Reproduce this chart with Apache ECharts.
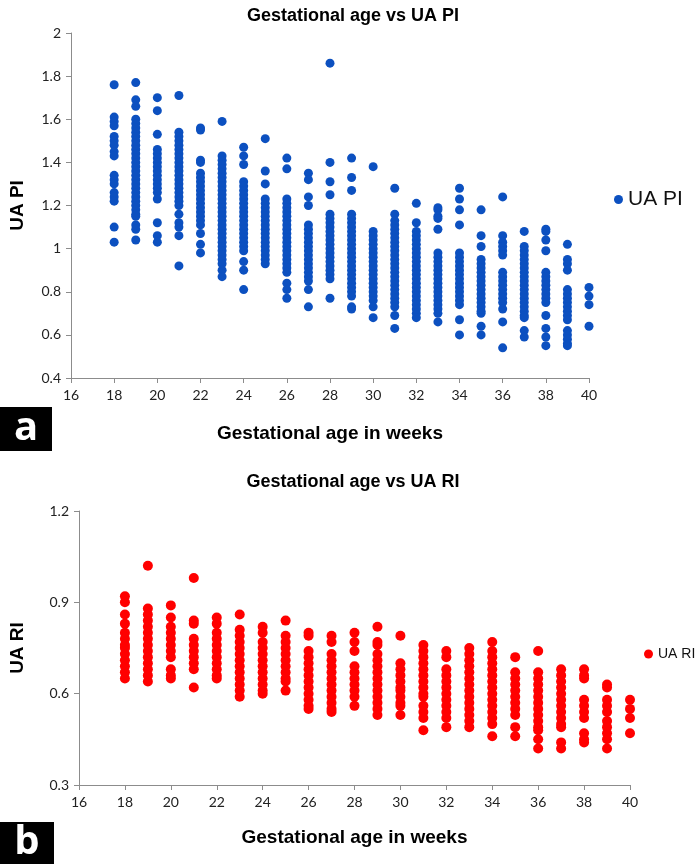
<!DOCTYPE html>
<html>
<head>
<meta charset="utf-8">
<script src="https://cdn.jsdelivr.net/npm/echarts@6/dist/echarts.min.js"></script>
<style>
html,body{margin:0;padding:0;background:#fff;}
#main{width:696px;height:864px;}
</style>
</head>
<body>
<div id="main"></div>
<script>
// Gestational age (weeks) columns
const weeks = [18,19,20,21,22,23,24,25,26,27,28,29,30,31,32,33,34,35,36,37,38,39,40];
const xTicks = [16,18,20,22,24,26,28,30,32,34,36,38,40];
const piTicks = [0.4,0.6,0.8,1,1.2,1.4,1.6,1.8,2];
const riTicks = [0.3,0.6,0.9,1.2];

// UA PI values per week (same order as weeks)
const uaPI = [
  [1.76,1.61,1.59,1.57,1.52,1.50,1.48,1.45,1.43,1.34,1.32,1.30,1.26,1.24,1.22,1.10,1.03],
  [1.77,1.69,1.66,1.60,1.58,1.56,1.54,1.52,1.50,1.48,1.46,1.44,1.42,1.40,1.38,1.36,1.34,1.32,1.30,1.28,1.26,1.24,1.22,1.20,1.18,1.16,1.15,1.11,1.09,1.04],
  [1.70,1.64,1.53,1.46,1.44,1.42,1.40,1.38,1.36,1.34,1.32,1.30,1.28,1.26,1.23,1.12,1.06,1.03],
  [1.71,1.54,1.52,1.50,1.48,1.46,1.44,1.42,1.40,1.38,1.36,1.34,1.32,1.30,1.28,1.26,1.24,1.22,1.20,1.16,1.12,1.10,1.06,0.92],
  [1.56,1.55,1.41,1.40,1.35,1.33,1.31,1.29,1.27,1.25,1.23,1.21,1.19,1.17,1.15,1.13,1.11,1.07,1.02,0.98],
  [1.59,1.43,1.41,1.39,1.37,1.35,1.33,1.31,1.29,1.27,1.25,1.23,1.21,1.19,1.17,1.15,1.13,1.11,1.09,1.07,1.05,1.03,1.01,0.99,0.97,0.95,0.93,0.90,0.87],
  [1.47,1.43,1.39,1.31,1.29,1.27,1.25,1.23,1.21,1.19,1.17,1.15,1.13,1.11,1.09,1.07,1.05,1.03,1.01,0.99,0.94,0.90,0.81],
  [1.51,1.36,1.30,1.23,1.21,1.19,1.17,1.15,1.13,1.11,1.09,1.07,1.05,1.03,1.01,0.99,0.97,0.95,0.93],
  [1.42,1.37,1.23,1.21,1.19,1.17,1.15,1.13,1.11,1.09,1.07,1.05,1.03,1.01,0.99,0.97,0.95,0.93,0.91,0.89,0.84,0.81,0.77],
  [1.35,1.32,1.24,1.20,1.11,1.09,1.07,1.05,1.03,1.01,0.99,0.97,0.95,0.93,0.91,0.89,0.87,0.85,0.81,0.73],
  [1.86,1.40,1.31,1.25,1.16,1.14,1.12,1.10,1.08,1.06,1.04,1.02,1.00,0.98,0.96,0.94,0.92,0.90,0.88,0.86,0.77],
  [1.42,1.33,1.27,1.16,1.14,1.12,1.10,1.08,1.06,1.04,1.02,1.00,0.98,0.96,0.94,0.92,0.90,0.88,0.86,0.84,0.82,0.80,0.78,0.73,0.72],
  [1.38,1.08,1.06,1.04,1.02,1.00,0.98,0.96,0.94,0.92,0.90,0.88,0.86,0.84,0.82,0.80,0.78,0.76,0.73,0.68],
  [1.28,1.16,1.13,1.11,1.09,1.07,1.05,1.03,1.01,0.99,0.97,0.95,0.93,0.91,0.89,0.87,0.85,0.83,0.81,0.79,0.77,0.75,0.73,0.69,0.63],
  [1.21,1.12,1.08,1.06,1.04,1.02,1.00,0.98,0.96,0.94,0.92,0.90,0.88,0.86,0.84,0.82,0.80,0.78,0.76,0.74,0.72,0.70,0.68],
  [1.19,1.18,1.15,1.14,1.09,0.98,0.96,0.94,0.92,0.90,0.88,0.86,0.84,0.82,0.80,0.78,0.76,0.74,0.72,0.70,0.66],
  [1.28,1.23,1.18,1.11,0.98,0.96,0.94,0.92,0.90,0.88,0.86,0.84,0.82,0.80,0.78,0.76,0.74,0.67,0.60],
  [1.18,1.06,1.01,0.95,0.93,0.91,0.89,0.87,0.85,0.83,0.81,0.79,0.77,0.75,0.73,0.71,0.70,0.64,0.60],
  [1.24,1.06,1.03,1.01,0.99,0.97,0.89,0.87,0.85,0.83,0.81,0.79,0.77,0.75,0.72,0.66,0.54],
  [1.08,1.01,0.99,0.97,0.95,0.93,0.91,0.89,0.87,0.85,0.83,0.81,0.79,0.77,0.75,0.73,0.71,0.69,0.68,0.62,0.59],
  [1.09,1.08,1.04,0.99,0.89,0.87,0.85,0.83,0.81,0.79,0.77,0.75,0.69,0.63,0.59,0.55],
  [1.02,0.95,0.93,0.90,0.81,0.79,0.77,0.75,0.73,0.71,0.69,0.67,0.62,0.60,0.58,0.56,0.55],
  [0.82,0.78,0.74,0.64]
];

// UA RI values per week (same order as weeks)
const uaRI = [
  [0.92,0.90,0.86,0.83,0.80,0.78,0.76,0.75,0.73,0.71,0.69,0.67,0.65],
  [1.02,0.88,0.86,0.84,0.82,0.80,0.78,0.76,0.74,0.72,0.70,0.68,0.66,0.64],
  [0.89,0.85,0.82,0.80,0.78,0.76,0.74,0.72,0.68,0.66,0.65],
  [0.98,0.84,0.83,0.78,0.76,0.74,0.72,0.70,0.68,0.62],
  [0.85,0.83,0.80,0.78,0.76,0.74,0.72,0.70,0.68,0.66,0.65],
  [0.86,0.81,0.79,0.77,0.75,0.73,0.71,0.69,0.67,0.65,0.63,0.61,0.59],
  [0.82,0.80,0.77,0.75,0.73,0.71,0.69,0.67,0.65,0.63,0.61,0.60],
  [0.84,0.79,0.77,0.75,0.73,0.71,0.69,0.67,0.65,0.64,0.61],
  [0.80,0.79,0.74,0.72,0.70,0.68,0.66,0.64,0.62,0.60,0.58,0.56,0.55],
  [0.79,0.77,0.73,0.71,0.69,0.67,0.65,0.63,0.61,0.59,0.57,0.55,0.54],
  [0.80,0.77,0.74,0.69,0.67,0.65,0.63,0.61,0.59,0.56],
  [0.82,0.77,0.76,0.73,0.71,0.69,0.67,0.65,0.63,0.61,0.59,0.57,0.55,0.53],
  [0.79,0.70,0.68,0.66,0.64,0.62,0.61,0.59,0.57,0.56,0.53],
  [0.76,0.74,0.72,0.70,0.68,0.66,0.64,0.62,0.60,0.59,0.56,0.54,0.52,0.48],
  [0.74,0.72,0.68,0.66,0.64,0.62,0.60,0.58,0.56,0.54,0.52,0.49],
  [0.75,0.73,0.71,0.69,0.67,0.65,0.63,0.61,0.59,0.57,0.55,0.53,0.51,0.49],
  [0.77,0.74,0.72,0.70,0.68,0.66,0.64,0.62,0.60,0.58,0.56,0.54,0.52,0.50,0.46],
  [0.72,0.67,0.65,0.63,0.61,0.59,0.57,0.55,0.53,0.49,0.46],
  [0.74,0.67,0.65,0.63,0.61,0.59,0.57,0.55,0.53,0.51,0.49,0.48,0.45,0.42],
  [0.68,0.66,0.64,0.62,0.60,0.58,0.56,0.54,0.52,0.50,0.49,0.44,0.42],
  [0.68,0.66,0.65,0.58,0.56,0.54,0.52,0.47,0.45,0.44],
  [0.63,0.62,0.58,0.56,0.54,0.51,0.49,0.47,0.45,0.42],
  [0.58,0.55,0.52,0.47]
];

function toPoints(perWeek){
  const pts = [];
  weeks.forEach((w,i)=>perWeek[i].forEach(v=>pts.push([w,v])));
  return pts;
}

const tickFont = {fontFamily:'Lato, "Open Sans", sans-serif', fontSize:14, color:'#222'};
const boldFont = 'Liberation Sans, Arial, sans-serif';
const axisGrey = '#8c8c8c';

function xAxisDef(gridIndex, gap){
  return {
    type:'value', gridIndex, min:xTicks[0], max:xTicks[xTicks.length-1], interval:2,
    name:'Gestational age in weeks', nameLocation:'middle', nameGap:gap,
    nameTextStyle:{fontFamily:boldFont, fontWeight:'bold', fontSize:19, color:'#000'},
    axisLine:{show:true, onZero:false, lineStyle:{color:axisGrey, width:1}},
    axisTick:{show:true, inside:false, length:5, lineStyle:{color:axisGrey}},
    axisLabel:Object.assign({margin:10}, tickFont),
    splitLine:{show:false}
  };
}
function yAxisDef(gridIndex, ticks, interval, name, gap){
  return {
    type:'value', gridIndex, min:ticks[0], max:ticks[ticks.length-1], interval,
    name, nameLocation:'middle', nameGap:gap, nameRotate:90,
    nameTextStyle:{fontFamily:boldFont, fontWeight:'bold', fontSize:19, color:'#000'},
    axisLine:{show:true, onZero:false, lineStyle:{color:axisGrey, width:1}},
    axisTick:{show:true, inside:false, length:5, lineStyle:{color:axisGrey}},
    axisLabel:Object.assign({margin:10}, tickFont),
    splitLine:{show:false}
  };
}

const chart = echarts.init(document.getElementById('main'), null, {renderer:'canvas'});
chart.setOption({
  animation:false,
  backgroundColor:'#fff',
  title:[
    {text:'Gestational age vs UA PI', left:348, textAlign:'center', top:2,
     textStyle:{fontFamily:boldFont, fontWeight:'bold', fontSize:18, color:'#000'}},
    {text:'Gestational age vs UA RI', left:348, textAlign:'center', top:468,
     textStyle:{fontFamily:boldFont, fontWeight:'bold', fontSize:18, color:'#000'}}
  ],
  legend:[
    {data:['UA PI'], left:609, top:184, icon:'circle', itemWidth:9, itemHeight:9, itemGap:4,
     textStyle:{fontFamily:boldFont, fontSize:21, color:'#111'}},
    {data:['UA RI'], left:639, top:642, icon:'circle', itemWidth:9, itemHeight:9, itemGap:3,
     textStyle:{fontFamily:boldFont, fontSize:14, color:'#111'}}
  ],
  grid:[
    {left:67, top:33, width:522, height:345},
    {left:78, top:511, width:552, height:274}
  ],
  xAxis:[ xAxisDef(0, 46), xAxisDef(1, 43) ],
  yAxis:[ yAxisDef(0, piTicks, 0.2, 'UA PI', 44), yAxisDef(1, riTicks, 0.3, 'UA RI', 52) ],
  series:[
    {name:'UA PI', type:'scatter', xAxisIndex:0, yAxisIndex:0, symbolSize:9,
     itemStyle:{color:'#0c50c0', opacity:1}, data:toPoints(uaPI)},
    {name:'UA RI', type:'scatter', xAxisIndex:1, yAxisIndex:1, symbolSize:10,
     itemStyle:{color:'#ff0000', opacity:1}, data:toPoints(uaRI)}
  ],
  graphic:[
    {type:'group', left:0, top:407, children:[
      {type:'rect', shape:{x:0,y:0,width:52,height:44}, style:{fill:'#000'}},
      {type:'text', x:26, y:22, style:{text:'a', fill:'#fff', font:'bold 40px "Open Sans", sans-serif', textAlign:'center', textVerticalAlign:'middle'}}
    ]},
    {type:'group', left:0, top:822, children:[
      {type:'rect', shape:{x:0,y:0,width:54,height:42}, style:{fill:'#000'}},
      {type:'text', x:27, y:21, style:{text:'b', fill:'#fff', font:'bold 40px "Open Sans", sans-serif', textAlign:'center', textVerticalAlign:'middle'}}
    ]}
  ]
});
</script>
</body>
</html>
